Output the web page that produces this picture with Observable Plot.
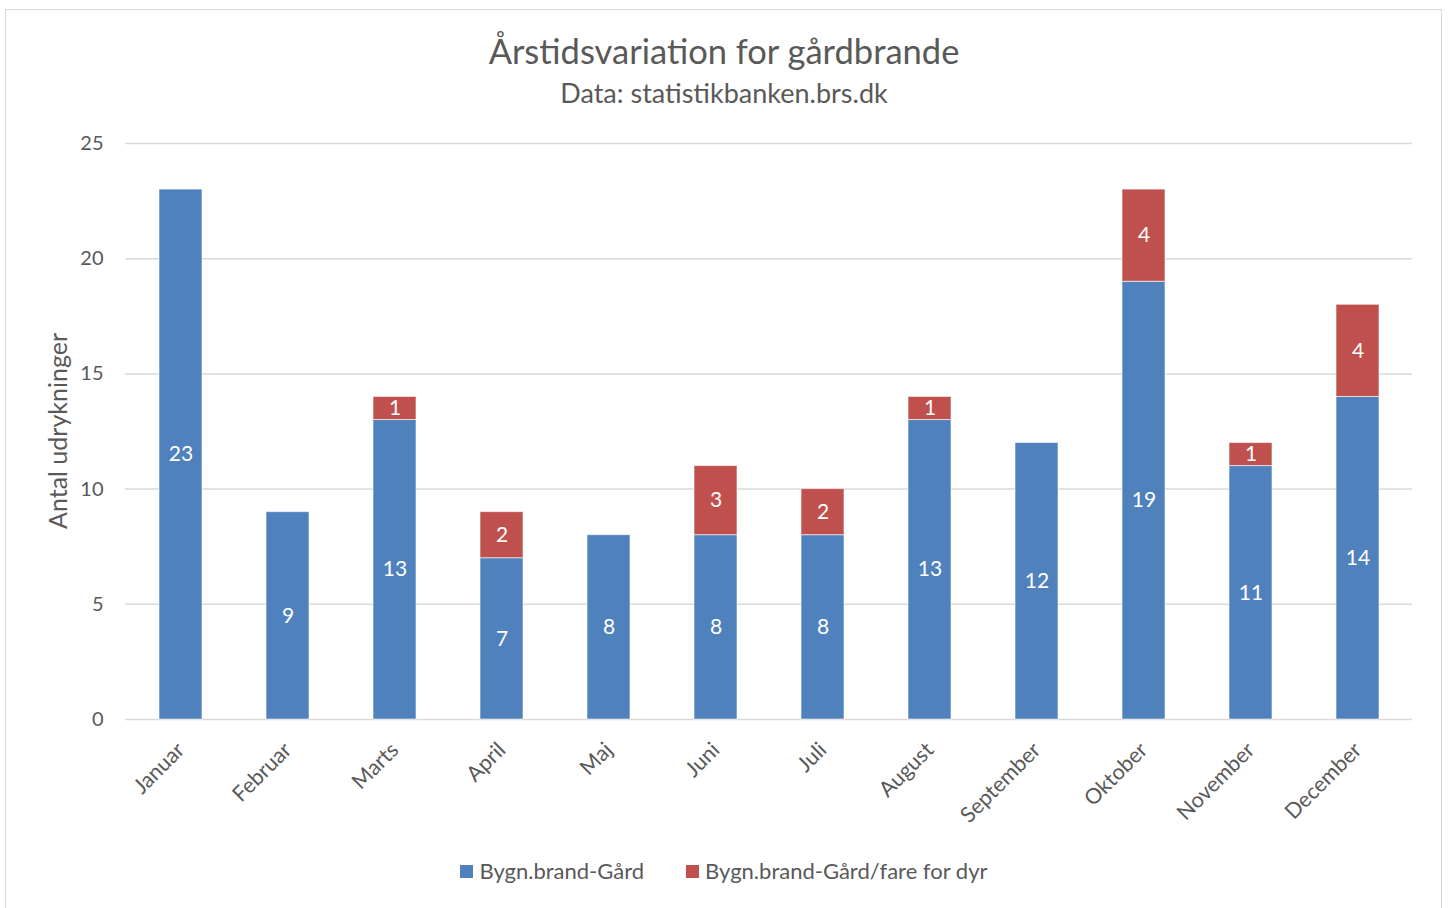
<!DOCTYPE html>
<html>
<head>
<meta charset="utf-8">
<script src="https://cdn.jsdelivr.net/npm/d3@7"></script>
<script src="https://cdn.jsdelivr.net/npm/@observablehq/plot@0.6"></script>
<style>
  html, body { margin: 0; padding: 0; background: #fff; }
  body { width: 1448px; height: 908px; position: relative; overflow: hidden; font-family: Lato, "Open Sans", sans-serif; color: #595959; }
  #frame { position: absolute; left: 5px; top: 9px; width: 1437px; height: 930px; border: 1.5px solid #d9d9d9; box-sizing: border-box; }
  #title { position: absolute; top: 30px; left: 0; width: 1448px; text-align: center; font-size: 34.5px; line-height: 42px; color: #595959; }
  #subtitle { position: absolute; top: 77px; left: 0; width: 1448px; text-align: center; font-size: 27px; line-height: 32px; color: #595959; }
  #chart { position: absolute; left: 0; top: 110px; }
  #ylabel { position: absolute; left: 57px; top: 431px; transform: translate(-50%, -50%) rotate(-90deg); font-size: 25px; white-space: nowrap; color: #595959; }
  #legend { position: absolute; top: 857px; left: 0; width: 1448px; display: flex; justify-content: center; gap: 42px; font-size: 22px; line-height: 28px; color: #595959; }
  .item { display: flex; align-items: center; gap: 6px; }
  .sw { width: 13px; height: 13px; display: inline-block; }
</style>
</head>
<body>
<div id="frame"></div>
<div id="title">Årstidsvariation for gårdbrande</div>
<div id="subtitle">Data: statistikbanken.brs.dk</div>
<div id="chart"></div>
<div id="ylabel">Antal udrykninger</div>
<div id="legend"></div>
<script>
const months = ["Januar","Februar","Marts","April","Maj","Juni","Juli","August","September","Oktober","November","December"];
const seriesNames = ["Bygn.brand-Gård", "Bygn.brand-Gård/fare for dyr"];
const gaard = [23, 9, 13, 7, 8, 8, 8, 13, 12, 19, 11, 14];
const fareForDyr = [0, 0, 1, 2, 0, 3, 2, 1, 0, 4, 1, 4];
const colors = ["#4f81bd", "#c0504d"];
const yTicks = [0, 5, 10, 15, 20, 25];

const rows = [];
months.forEach((m, i) => {
  rows.push({month: m, series: seriesNames[0], value: gaard[i]});
  rows.push({month: m, series: seriesNames[1], value: fareForDyr[i]});
});

const plot = Plot.plot({
  width: 1448,
  height: 730,
  marginLeft: 125,
  marginRight: 36,
  marginTop: 33,
  marginBottom: 121,
  style: {fontFamily: "Lato, 'Open Sans', sans-serif", fontSize: "20px", color: "#595959", background: "transparent"},
  x: {domain: months, paddingInner: 0.6, paddingOuter: 0.3, label: null},
  y: {domain: [0, 25], label: null},
  color: {domain: seriesNames, range: colors},
  marks: [
    Plot.ruleY(yTicks, {stroke: "#d9d9d9", strokeWidth: 1.5}),
    Plot.barY(rows, Plot.stackY({x: "month", y: "value", fill: "series", z: "series", stroke: "white", strokeOpacity: 0.6, strokeWidth: 1})),
    Plot.text(rows, Plot.stackY({x: "month", y: "value", z: "series", text: d => d.value > 0 ? String(d.value) : "", fill: "white", fontSize: 21})),
    Plot.axisY({ticks: yTicks, tickSize: 0, tickPadding: 22, fontSize: 20, label: null, fill: "#595959"}),
    Plot.axisX({tickSize: 0, tickPadding: 27, tickRotate: -45, fontSize: 21.5, label: null, fill: "#595959"})
  ]
});
document.getElementById("chart").appendChild(plot);

const legend = document.getElementById("legend");
seriesNames.forEach((s, i) => {
  const it = document.createElement("div");
  it.className = "item";
  const sw = document.createElement("span");
  sw.className = "sw";
  sw.style.background = colors[i];
  const t = document.createElement("span");
  t.textContent = s;
  it.appendChild(sw); it.appendChild(t);
  legend.appendChild(it);
});
</script>
</body>
</html>
